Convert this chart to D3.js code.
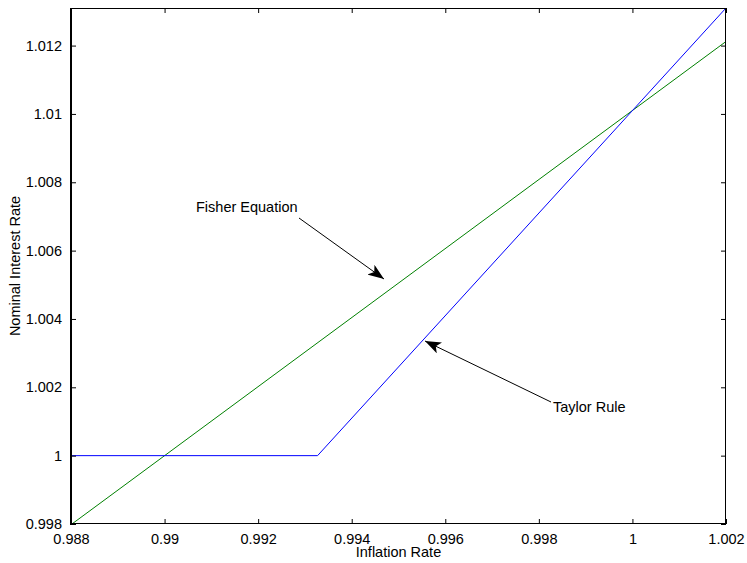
<!DOCTYPE html>
<html><head><meta charset="utf-8">
<script src="https://cdn.jsdelivr.net/npm/d3@7"></script>
<style>
body{margin:0;background:#fff;}
text{font-family:"Liberation Sans",Arial,Helvetica,sans-serif;fill:#000;}
</style></head>
<body>
<svg id="c" width="747" height="563"></svg>
<script>
// Data
const xTicks = [0.988, 0.99, 0.992, 0.994, 0.996, 0.998, 1, 1.002];
const xTickLabels = ["0.988","0.99","0.992","0.994","0.996","0.998","1","1.002"];
const yTicks = [0.998, 1, 1.002, 1.004, 1.006, 1.008, 1.01, 1.012];
const yTickLabels = ["0.998","1","1.002","1.004","1.006","1.008","1.01","1.012"];
const fisherX = [0.988, 1.002];
const fisherY = [0.99798, 1.01212];
const taylorX = [0.988, 0.99327, 1.002];
const taylorY = [1.0, 1.0, 1.0131];
const xDomain = [0.988, 1.002];
const yDomain = [0.998, 1.0131];

(function(){
const svg = d3.select("#c");
const L = 71, R = 726, T = 8, B = 524;
const x = d3.scaleLinear().domain(xDomain).range([L, R]);
const y = d3.scaleLinear().domain(yDomain).range([B, T]);

const defs = svg.append("defs");
defs.append("marker").attr("id","ah").attr("viewBox","0 0 16 12")
  .attr("refX",16).attr("refY",6).attr("markerWidth",16).attr("markerHeight",12)
  .attr("markerUnits","userSpaceOnUse").attr("orient","auto")
  .append("path").attr("d","M0,0 L16,6 L0,12 L4,6 Z").attr("fill","#000");

const clip = defs.append("clipPath").attr("id","pc");
clip.append("rect").attr("x",L).attr("y",T).attr("width",R-L).attr("height",B-T);

const line = d3.line().x(d=>x(d[0])).y(d=>y(d[1]));
const g = svg.append("g").attr("clip-path","url(#pc)");
g.append("path").datum(fisherX.map((v,i)=>[v,fisherY[i]]))
  .attr("d",line).attr("fill","none").attr("stroke","#008000").attr("stroke-width",1);
g.append("path").datum(taylorX.map((v,i)=>[v,taylorY[i]]))
  .attr("d",line).attr("fill","none").attr("stroke","#0000ff").attr("stroke-width",1);

const tl = 5;
const axB = d3.axisBottom(x).tickValues(xTicks).tickFormat((d,i)=>xTickLabels[i]).tickSizeInner(-tl).tickSizeOuter(0).tickPadding(10);
const axT = d3.axisTop(x).tickValues(xTicks).tickFormat("").tickSizeInner(-tl).tickSizeOuter(0);
const axL = d3.axisLeft(y).tickValues(yTicks).tickFormat((d,i)=>yTickLabels[i]).tickSizeInner(-tl).tickSizeOuter(0).tickPadding(9);
const axR = d3.axisRight(y).tickValues(yTicks).tickFormat("").tickSizeInner(-tl).tickSizeOuter(0);

function style(sel){
  sel.selectAll("text").attr("font-size",14.5).attr("font-family","Liberation Sans, Arial, sans-serif").attr("fill","#000");
  sel.selectAll("line").attr("stroke","#000");
  sel.select(".domain").remove();
}
svg.append("g").attr("transform",`translate(0,${B})`).call(axB).call(style);
svg.append("g").attr("transform",`translate(0,${T})`).call(axT).call(style);
svg.append("g").attr("transform",`translate(${L},0)`).call(axL).call(style);
svg.append("g").attr("transform",`translate(${R},0)`).call(axR).call(style);
svg.append("rect").attr("x",L+0.5).attr("y",T+0.5).attr("width",R-L-1).attr("height",B-T-1)
  .attr("fill","none").attr("stroke","#000").attr("stroke-width",1);
svg.append("line").attr("x1",L).attr("x2",L).attr("y1",T).attr("y2",B+1).attr("stroke","#000").attr("stroke-width",2);

svg.append("text").attr("x",(L+R)/2).attr("y",557).attr("text-anchor","middle").attr("font-size",14.5).text("Inflation Rate");
svg.append("text").attr("transform",`translate(20,${(T+B)/2}) rotate(-90)`).attr("text-anchor","middle").attr("font-size",14.5).text("Nominal Interest Rate");

svg.append("text").attr("x",196).attr("y",212).attr("font-size",14.5).text("Fisher Equation");
svg.append("line").attr("x1",299).attr("y1",218).attr("x2",384).attr("y2",279)
  .attr("stroke","#000").attr("stroke-width",1).attr("marker-end","url(#ah)");
svg.append("text").attr("x",553).attr("y",412).attr("font-size",14.5).text("Taylor Rule");
svg.append("line").attr("x1",551).attr("y1",402).attr("x2",425).attr("y2",341)
  .attr("stroke","#000").attr("stroke-width",1).attr("marker-end","url(#ah)");
})();
</script>
</body></html>
